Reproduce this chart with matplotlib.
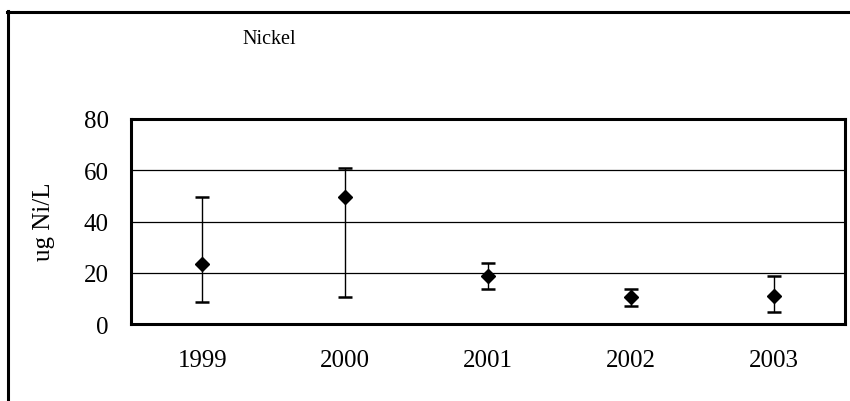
import matplotlib
matplotlib.use("Agg")
import matplotlib.pyplot as plt
from matplotlib.lines import Line2D

# values
years = ["1999", "2000", "2001", "2002", "2003"]
means = [23.5, 49.7, 18.7, 10.6, 11.0]
upper = [49.5, 60.9, 23.7, 13.8, 18.7]
lower = [8.7, 10.4, 13.8, 7.2, 4.6]
yticks = [0, 20, 40, 60, 80]

plt.rcParams["font.family"] = ["Liberation Serif", "DejaVu Serif"]

fig = plt.figure(figsize=(8.5, 4.02), dpi=100)
ax = fig.add_axes([131 / 850, 1 - 325 / 402, 714 / 850, 205 / 402])

x = list(range(len(years)))
err = [[m - lo for m, lo in zip(means, lower)],
       [hi - m for m, hi in zip(means, upper)]]
ax.errorbar(x, means, yerr=err, fmt="D", color="black", markersize=7,
            ecolor="black", elinewidth=1, capsize=5, capthick=1.8, zorder=3)

ax.set_xlim(-0.5, len(years) - 0.5)
ax.set_ylim(0, 80)
ax.set_yticks(yticks)
ax.set_xticks(x)
ax.set_xticklabels(years)
for y in yticks[1:-1]:
    ax.axhline(y, color="black", linewidth=0.9, zorder=1)

ax.tick_params(axis="both", length=0, labelsize=18)
ax.tick_params(axis="y", pad=16)
ax.tick_params(axis="x", pad=18)
for s in ax.spines.values():
    s.set_linewidth(2.2)

fig.text(44 / 850, 1 - 222 / 402, "ug Ni/L", rotation=90, fontsize=18,
         ha="center", va="center")
fig.text(269 / 850, 1 - 40 / 402, "Nickel", fontsize=14.5,
         ha="center", va="center")

# outer chart border (top and left, as in the scan)
fig.add_artist(Line2D([7 / 850, 1.0], [1 - 12.5 / 402, 1 - 12.5 / 402],
                      transform=fig.transFigure, color="black", linewidth=2.2))
fig.add_artist(Line2D([8 / 850, 8 / 850], [0.0, 1 - 12 / 402],
                      transform=fig.transFigure, color="black", linewidth=2.2))

fig.savefig("out.png", dpi=100)
